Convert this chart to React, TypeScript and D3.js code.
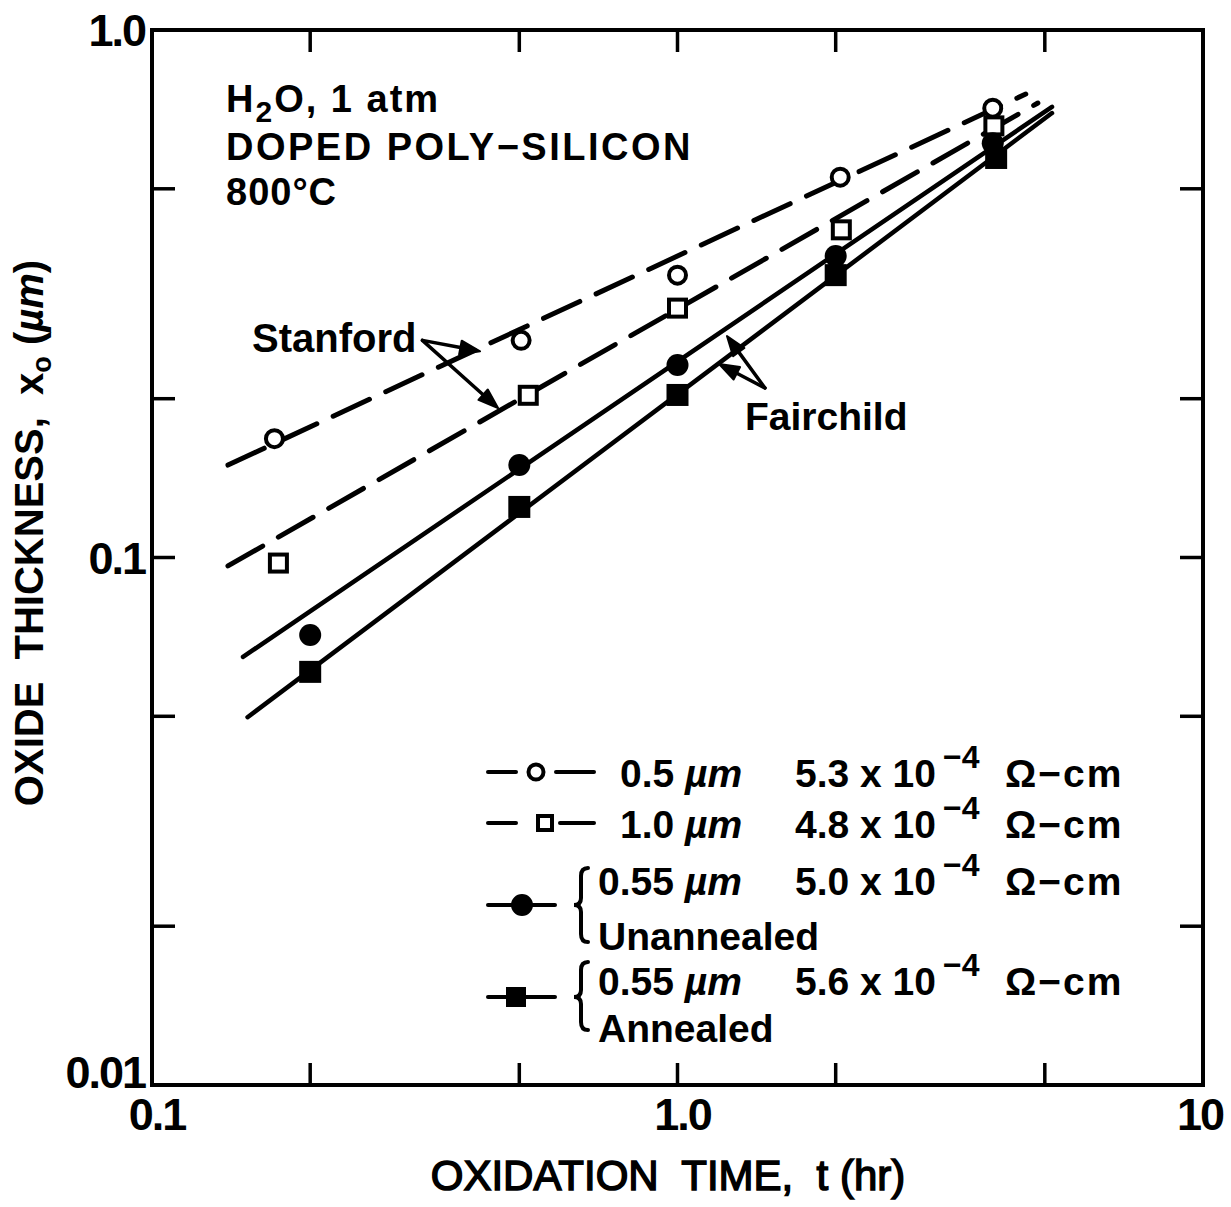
import React from 'react';
import * as d3 from 'd3';

// --- data ---
const tOpenCircle = [0.171, 0.504, 1.0, 2.04, 3.98];
const xOpenCircle = [0.168, 0.258, 0.343, 0.526, 0.711];

const tOpenSquare = [0.174, 0.52, 1.0, 2.05, 4.0];
const xOpenSquare = [0.0976, 0.203, 0.297, 0.418, 0.658];

const tFilledCircle = [0.2, 0.5, 1.0, 2.0, 3.98];
const xFilledCircle = [0.0713, 0.1497, 0.2317, 0.3727, 0.61];

const tFilledSquare = [0.2, 0.5, 1.0, 2.0, 4.04];
const xFilledSquare = [0.0607, 0.1247, 0.2033, 0.343, 0.572];

// fitted lines: [start t, start x0], [end t, end x0]
const fitStanford05: [number, number][] = [[0.1395, 0.1497], [4.6, 0.756]];
const fitStanford10: [number, number][] = [[0.1395, 0.0964], [4.85, 0.727]];
const fitFairUnann: [number, number][] = [[0.149, 0.0648], [5.16, 0.715]];
const fitFairAnn: [number, number][] = [[0.152, 0.0498], [5.16, 0.696]];

// annotation arrows (data space): origin, tips
const stanfordArrow = { from: [0.327, 0.258], tips: [[0.421, 0.246], [0.4555, 0.192]] };
const fairchildArrow = { from: [1.467, 0.2096], tips: [[1.242, 0.263], [1.2, 0.2327]] };

const xMajor = [0.1, 1.0, 10];
const xMajorLabels = ['0.1', '1.0', '10'];
const xMinor = [0.2, 0.5, 2, 5];
const yMajor = [1.0, 0.1, 0.01];
const yMajorLabels = ['1.0', '0.1', '0.01'];
const yMinor = [0.5, 0.2, 0.05, 0.02];

const legendSize = ['0.5', '1.0', '0.55', '0.55'];
const legendRho = ['5.3', '4.8', '5.0', '5.6'];

const W = 1231;
const H = 1207;
const FONT = '"Liberation Sans", Arial, sans-serif';

const x = d3.scaleLog().domain([0.1, 10]).range([152, 1203]);
const y = d3.scaleLog().domain([0.01, 1]).range([1085, 30]);

const pts = (ts: number[], vs: number[]) => ts.map((t, i) => [x(t), y(vs[i])] as [number, number]);
const lineGen = d3.line<[number, number]>().x(d => x(d[0])).y(d => y(d[1]));

const Arrow: React.FC<{ from: number[]; tip: number[] }> = ({ from, tip }) => {
    const x1 = x(from[0]), y1 = y(from[1]), x2 = x(tip[0]), y2 = y(tip[1]);
    const a = Math.atan2(y2 - y1, x2 - x1);
    const L = 20, w = 7;
    const bx = x2 - L * Math.cos(a), by = y2 - L * Math.sin(a);
    const p1 = [bx + w * Math.sin(a), by - w * Math.cos(a)];
    const p2 = [bx - w * Math.sin(a), by + w * Math.cos(a)];
    return (
        <g>
            <line x1={x1} y1={y1} x2={bx} y2={by} stroke="#000" strokeWidth={3.5} strokeLinecap="round" />
            <path d={`M${x2},${y2}L${p1[0]},${p1[1]}L${p2[0]},${p2[1]}Z`} fill="#000" stroke="#000" strokeWidth={2} strokeLinejoin="round" />
        </g>
    );
};

const Brace: React.FC<{ x0: number; top: number; mid: number; bot: number }> = ({ x0, top, mid, bot }) => (
    <path
        d={`M${x0 + 10},${top} Q${x0 + 3},${top} ${x0 + 3},${top + 8} L${x0 + 3},${mid - 7} Q${x0 + 3},${mid} ${x0 - 4},${mid} Q${x0 + 3},${mid} ${x0 + 3},${mid + 7} L${x0 + 3},${bot - 8} Q${x0 + 3},${bot} ${x0 + 10},${bot}`}
        fill="none" stroke="#000" strokeWidth={4} strokeLinecap="round"
    />
);

const LegendValue: React.FC<{ xs: number; yb: number; mant: string }> = ({ xs, yb, mant }) => (
    <g>
        <text x={xs} y={yb} fontSize={39} xmlSpace="preserve">{mant} x 10</text>
        <text x={xs + 148} y={yb - 19} fontSize={32}>−4</text>
        <text x={xs + 210} y={yb} fontSize={39} letterSpacing={2}>Ω−cm</text>
    </g>
);

export default function App() {
    const openC = pts(tOpenCircle, xOpenCircle);
    const openS = pts(tOpenSquare, xOpenSquare);
    const fillC = pts(tFilledCircle, xFilledCircle);
    const fillS = pts(tFilledSquare, xFilledSquare);

    return (
        <svg width={W} height={H} style={{ position: 'absolute', left: 0, top: 0, background: '#fff' }}
            fontFamily={FONT} fontWeight="bold">
            {/* frame */}
            <rect x={152} y={30} width={1051} height={1055} fill="none" stroke="#000" strokeWidth={4} />

            {/* ticks */}
            {[...xMinor, xMajor[1]].map(v => (
                <g key={'xm' + v}>
                    <line x1={x(v)} x2={x(v)} y1={1085} y2={1063} stroke="#000" strokeWidth={3.5} />
                    <line x1={x(v)} x2={x(v)} y1={30} y2={52} stroke="#000" strokeWidth={3.5} />
                </g>
            ))}
            {[...yMinor, yMajor[1]].map(v => (
                <g key={'ym' + v}>
                    <line x1={152} x2={175} y1={y(v)} y2={y(v)} stroke="#000" strokeWidth={3.5} />
                    <line x1={1203} x2={1180} y1={y(v)} y2={y(v)} stroke="#000" strokeWidth={3.5} />
                </g>
            ))}

            {/* tick labels */}
            {yMajor.map((v, i) => (
                <text key={'yl' + v} x={145} y={Math.min(y(v) + 16, 1088)} textAnchor="end" fontSize={45} letterSpacing={-2}>{yMajorLabels[i]}</text>
            ))}
            {xMajor.map((v, i) => (
                <text key={'xl' + v} x={i === 2 ? 1200 : x(v) + 5} y={1130} textAnchor="middle" fontSize={45} letterSpacing={-2}>{xMajorLabels[i]}</text>
            ))}

            {/* axis titles */}
            <text x={668} y={1190} textAnchor="middle" fontSize={42} fontWeight="normal" stroke="#000" strokeWidth={1.5} xmlSpace="preserve">OXIDATION  TIME,  t (hr)</text>
            <text transform="translate(43,533) rotate(-90)" textAnchor="middle" fontSize={40} xmlSpace="preserve">
                OXIDE  THICKNESS,  x<tspan fontSize={27} dy={8}>o</tspan><tspan dy={-8}> (</tspan><tspan fontStyle="italic">µm</tspan>)
            </text>

            {/* condition text */}
            <text x={226} y={112} fontSize={38} letterSpacing={2} xmlSpace="preserve">H<tspan fontSize={30} dy={10}>2</tspan><tspan dy={-10}>O, 1 atm</tspan></text>
            <text x={226} y={160} fontSize={38} letterSpacing={2.5}>DOPED POLY−SILICON</text>
            <text x={226} y={205} fontSize={38} letterSpacing={1}>800°C</text>

            {/* fit lines */}
            <path d={lineGen(fitStanford05) || ''} fill="none" stroke="#000" strokeWidth={5} strokeDasharray="40 18" strokeLinecap="round" />
            <path d={lineGen(fitStanford10) || ''} fill="none" stroke="#000" strokeWidth={5} strokeDasharray="40 18" strokeLinecap="round" />
            <path d={lineGen(fitFairUnann) || ''} fill="none" stroke="#000" strokeWidth={4.5} strokeLinecap="round" />
            <path d={lineGen(fitFairAnn) || ''} fill="none" stroke="#000" strokeWidth={4.5} strokeLinecap="round" />

            {/* markers */}
            {openC.map((p, i) => <circle key={'oc' + i} cx={p[0]} cy={p[1]} r={8.5} fill="#fff" stroke="#000" strokeWidth={4} />)}
            {openS.map((p, i) => <rect key={'os' + i} x={p[0] - 8.5} y={p[1] - 8.5} width={17} height={17} fill="#fff" stroke="#000" strokeWidth={4} />)}
            {fillC.map((p, i) => <circle key={'fc' + i} cx={p[0]} cy={p[1]} r={11} fill="#000" />)}
            {fillS.map((p, i) => <rect key={'fs' + i} x={p[0] - 11} y={p[1] - 11} width={22} height={22} fill="#000" />)}

            {/* annotations */}
            <text x={252} y={352} fontSize={40}>Stanford</text>
            {stanfordArrow.tips.map((t, i) => <Arrow key={'sa' + i} from={stanfordArrow.from} tip={t} />)}
            <text x={745} y={430} fontSize={39}>Fairchild</text>
            {fairchildArrow.tips.map((t, i) => <Arrow key={'fa' + i} from={fairchildArrow.from} tip={t} />)}

            {/* legend symbols */}
            <g stroke="#000" strokeWidth={4} strokeLinecap="round">
                <line x1={488} x2={516} y1={772} y2={772} />
                <line x1={556} x2={594} y1={772} y2={772} />
                <circle cx={536} cy={772} r={7.5} fill="#fff" />
                <line x1={488} x2={516} y1={823} y2={823} />
                <line x1={560} x2={594} y1={823} y2={823} />
                <rect x={538} y={816} width={14} height={14} fill="#fff" strokeLinecap="butt" />
                <line x1={488} x2={555} y1={905} y2={905} />
                <circle cx={522} cy={905} r={9} fill="#000" />
                <line x1={488} x2={555} y1={997} y2={997} />
                <rect x={508} y={989} width={16} height={16} fill="#000" strokeLinecap="butt" />
            </g>
            <Brace x0={578} top={868} mid={905} bot={942} />
            <Brace x0={578} top={962} mid={997} bot={1030} />

            {/* legend text */}
            <text x={620} y={787} fontSize={39}>{legendSize[0]} <tspan fontStyle="italic">µm</tspan></text>
            <LegendValue xs={795} yb={787} mant={legendRho[0]} />
            <text x={620} y={838} fontSize={39}>{legendSize[1]} <tspan fontStyle="italic">µm</tspan></text>
            <LegendValue xs={795} yb={838} mant={legendRho[1]} />
            <text x={598} y={895} fontSize={39}>{legendSize[2]} <tspan fontStyle="italic">µm</tspan></text>
            <LegendValue xs={795} yb={895} mant={legendRho[2]} />
            <text x={598} y={950} fontSize={39}>Unannealed</text>
            <text x={598} y={995} fontSize={39}>{legendSize[3]} <tspan fontStyle="italic">µm</tspan></text>
            <LegendValue xs={795} yb={995} mant={legendRho[3]} />
            <text x={598} y={1042} fontSize={39}>Annealed</text>
        </svg>
    );
}
